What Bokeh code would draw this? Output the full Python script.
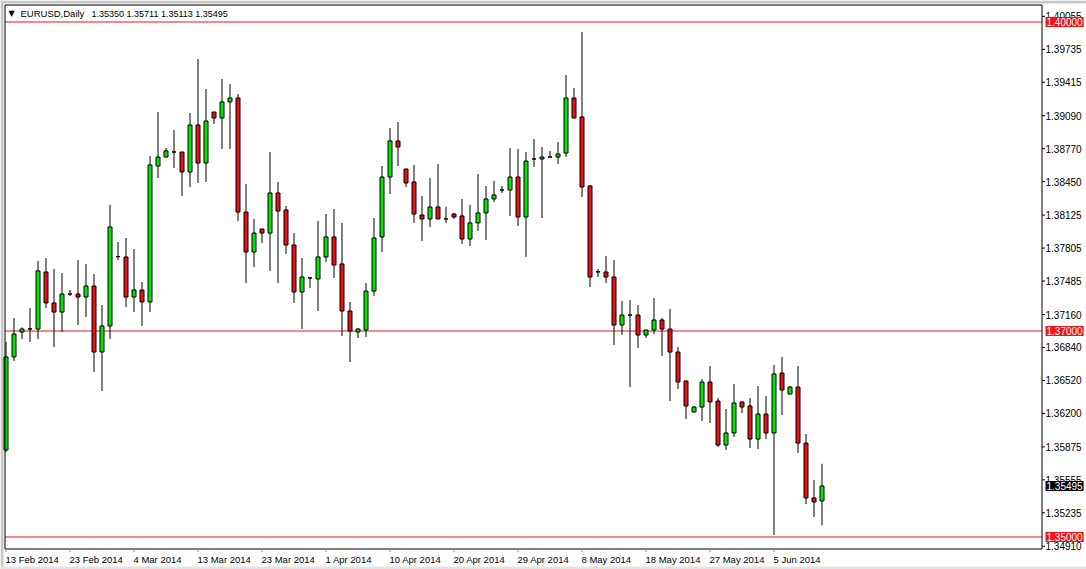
from bokeh.plotting import figure
from bokeh.models import Range1d, Label, ColumnDataSource
from bokeh.embed import file_html
from bokeh.resources import INLINE

symbol = "EURUSD,Daily"

opens = [1.35845, 1.36748, 1.36990, 1.37020, 1.37019, 1.37573, 1.37272, 1.37184, 1.37359, 1.37359,
         1.37330, 1.37437, 1.36796, 1.37049, 1.37722, 1.37719, 1.37330, 1.37398, 1.37282, 1.38602,
         1.38689, 1.38738, 1.38738, 1.38544, 1.39000, 1.38631, 1.39126, 1.39068, 1.39224, 1.39262,
         1.38155, 1.37767, 1.37990, 1.37951, 1.38340, 1.38175, 1.37835, 1.37379, 1.37515, 1.37505,
         1.37719, 1.37913, 1.37651, 1.37194, 1.36990, 1.37010, 1.37388, 1.37913, 1.38495, 1.38845,
         1.38573, 1.38447, 1.38126, 1.38088, 1.38204, 1.38088, 1.38136, 1.38117, 1.37893, 1.38049,
         1.38146, 1.38282, 1.38369, 1.38369, 1.38495, 1.38107, 1.38670, 1.38670, 1.38689, 1.38689,
         1.38728, 1.39262, 1.39078, 1.38408, 1.37573, 1.37573, 1.37524, 1.37058, 1.37155, 1.37155,
         1.36961, 1.37010, 1.37107, 1.37019, 1.36796, 1.36515, 1.36214, 1.36262, 1.36505, 1.36320,
         1.35893, 1.36010, 1.36311, 1.36272, 1.35951, 1.36194, 1.36010, 1.36592, 1.36388, 1.36456,
         1.35912, 1.35379, 1.35350]
highs = [1.36893, 1.37126, 1.37034, 1.37223, 1.37680, 1.37709, 1.37602, 1.37563, 1.37398, 1.37689,
         1.37651, 1.37553, 1.37252, 1.38224, 1.37864, 1.37903, 1.37796, 1.37476, 1.38699, 1.39126,
         1.38777, 1.38952, 1.38738, 1.39117, 1.39641, 1.39350, 1.39126, 1.39447, 1.39398, 1.39301,
         1.38427, 1.38088, 1.37990, 1.38738, 1.38447, 1.38214, 1.37951, 1.37709, 1.37524, 1.38068,
         1.38136, 1.38185, 1.38049, 1.37282, 1.37029, 1.37466, 1.38097, 1.38602, 1.38971, 1.39029,
         1.38573, 1.38612, 1.38311, 1.38486, 1.38621, 1.38204, 1.38146, 1.38282, 1.38224, 1.38524,
         1.38408, 1.38457, 1.38408, 1.38777, 1.38767, 1.38738, 1.38864, 1.38787, 1.38748, 1.38835,
         1.39486, 1.39360, 1.39903, 1.38418, 1.37602, 1.37728, 1.37689, 1.37291, 1.37301, 1.37252,
         1.37010, 1.37320, 1.37126, 1.37214, 1.36845, 1.36515, 1.36272, 1.36534, 1.36660, 1.36349,
         1.36243, 1.36485, 1.36311, 1.36349, 1.36466, 1.36369, 1.36670, 1.36748, 1.36466, 1.36660,
         1.36000, 1.35553, 1.35711]
lows = [1.35825, 1.36709, 1.36922, 1.36893, 1.36922, 1.37223, 1.36845, 1.36990, 1.37340, 1.37058,
        1.37136, 1.36602, 1.36417, 1.36922, 1.37689, 1.37233, 1.37184, 1.37049, 1.37184, 1.38485,
        1.38685, 1.38583, 1.38311, 1.38398, 1.38437, 1.38447, 1.39010, 1.38767, 1.38767, 1.38068,
        1.37466, 1.37621, 1.37855, 1.37583, 1.37466, 1.37748, 1.37272, 1.37019, 1.37418, 1.37194,
        1.37670, 1.37515, 1.36951, 1.36699, 1.36932, 1.36942, 1.37340, 1.37767, 1.38330, 1.38602,
        1.38398, 1.38049, 1.37874, 1.38010, 1.38088, 1.38049, 1.38088, 1.37845, 1.37825, 1.37971,
        1.37884, 1.38253, 1.38340, 1.38117, 1.38020, 1.37719, 1.38592, 1.38097, 1.38685, 1.38622,
        1.38690, 1.39063, 1.38301, 1.37427, 1.37524, 1.37466, 1.36864, 1.36961, 1.36456, 1.36835,
        1.36932, 1.36971, 1.36757, 1.36320, 1.36437, 1.36146, 1.36209, 1.36126, 1.36107, 1.35874,
        1.35845, 1.35971, 1.36204, 1.35864, 1.35854, 1.35951, 1.35019, 1.36184, 1.36388, 1.35815,
        1.35320, 1.35194, 1.35113]
closes = [1.36748, 1.36971, 1.37019, 1.37020, 1.37583, 1.37272, 1.37184, 1.37359, 1.37359, 1.37330,
          1.37437, 1.36796, 1.37049, 1.38010, 1.37722, 1.37330, 1.37398, 1.37282, 1.38612, 1.38689,
          1.38748, 1.38738, 1.38544, 1.39000, 1.38631, 1.39039, 1.39068, 1.39224, 1.39262, 1.38155,
          1.37767, 1.37951, 1.37951, 1.38340, 1.38165, 1.37835, 1.37379, 1.37524, 1.37515, 1.37719,
          1.37913, 1.37641, 1.37194, 1.37000, 1.37019, 1.37388, 1.37903, 1.38495, 1.38845, 1.38786,
          1.38437, 1.38136, 1.38088, 1.38204, 1.38088, 1.38088, 1.38107, 1.37893, 1.38049, 1.38146,
          1.38282, 1.38321, 1.38369, 1.38495, 1.38107, 1.38650, 1.38670, 1.38689, 1.38689, 1.38719,
          1.39262, 1.39068, 1.38398, 1.37524, 1.37576, 1.37524, 1.37058, 1.37155, 1.37155, 1.36961,
          1.37010, 1.37107, 1.37019, 1.36796, 1.36505, 1.36272, 1.36262, 1.36505, 1.36311, 1.35893,
          1.36010, 1.36301, 1.36262, 1.35951, 1.36194, 1.36010, 1.36583, 1.36427, 1.36456, 1.35912,
          1.35379, 1.35340, 1.35495]

date_bars = [0, 8, 16, 24, 32, 40, 48, 56, 64, 72, 80, 88, 96]
date_labels = ["13 Feb 2014", "23 Feb 2014", "4 Mar 2014", "13 Mar 2014", "23 Mar 2014",
               "1 Apr 2014", "10 Apr 2014", "20 Apr 2014", "29 Apr 2014", "8 May 2014",
               "18 May 2014", "27 May 2014", "5 Jun 2014"]

price_ticks = [1.40055, 1.39735, 1.39415, 1.39090, 1.38770, 1.38450, 1.38125, 1.37805, 1.37485,
               1.37160, 1.36840, 1.36520, 1.36200, 1.35875, 1.35555, 1.35235, 1.34910]
levels = [1.40000, 1.37000, 1.35000]
last_price = closes[-1]

GREEN = "#00e600"
RED = "#e81010"
LEVEL = "#e8141e"
BOX_RED = "#f01414"
FONT = "Liberation Sans"

W, H = 1086, 569
# screen layout of the MT4 window (pixels): bar i centred at 5.5 + 8*i,
# price 1.37000 at y=330.5, 10300 px per 1.0 of price
PX_PER_BAR = 8.0
PX_PER_PRICE = 10300.0


def xd(px):
    return (px - 5.5) / PX_PER_BAR


def yd(py):
    return 1.37 + (330.5 - py) / PX_PER_PRICE


FRAME_L, FRAME_R, FRAME_T, FRAME_B = 4.5, 1041.5, 4.5, 548.5

n = len(opens)
idx = list(range(n))
colors = [GREEN if c > o else (RED if c < o else "black") for o, c in zip(opens, closes)]
src = ColumnDataSource(dict(
    x=idx,
    top=[max(o, c) for o, c in zip(opens, closes)],
    bottom=[min(o, c) for o, c in zip(opens, closes)],
    high=highs, low=lows, color=colors,
))

p = figure(width=W, height=H,
           x_range=Range1d(xd(0), xd(W)), y_range=Range1d(yd(H), yd(0)),
           output_backend="svg", toolbar_location=None,
           x_axis_location=None, y_axis_location=None, min_border=0)
p.background_fill_color = "white"
p.border_fill_color = "white"
p.outline_line_color = None
p.grid.visible = False

# window chrome strips
p.quad(left=xd(0), right=xd(3), top=yd(0), bottom=yd(H), fill_color="#c8c8c8", line_color=None)
p.quad(left=xd(0), right=xd(W), top=yd(0), bottom=yd(3), fill_color="#c8c8c8", line_color=None)
p.quad(left=xd(0), right=xd(W), top=yd(566), bottom=yd(H), fill_color="#e4e4e4", line_color=None)

# level lines
p.segment(x0=[xd(FRAME_L)] * len(levels), x1=[xd(FRAME_R)] * len(levels), y0=levels, y1=levels,
          line_color=LEVEL, line_width=1)

# candles
p.segment(x0="x", y0="low", x1="x", y1="high", source=src, line_color="black", line_width=1)
p.vbar(x="x", top="top", bottom="bottom", width=0.5, source=src,
       fill_color="color", line_color="black", line_width=1)

# chart frame
p.quad(left=xd(FRAME_L), right=xd(FRAME_R), top=yd(FRAME_T), bottom=yd(FRAME_B),
       fill_color=None, line_color="black", line_width=1)

# price axis ticks + labels
p.segment(x0=[xd(FRAME_R)] * len(price_ticks), x1=[xd(FRAME_R + 3)] * len(price_ticks),
          y0=price_ticks, y1=price_ticks, line_color="black", line_width=1)
for t in price_ticks:
    p.add_layout(Label(x=xd(1045), y=t, text=f"{t:.5f}",
                       text_font=FONT, text_font_size="10px", text_color="black",
                       text_align="left", text_baseline="middle"))

# date axis ticks + labels (left-aligned at the tick, MT4 style)
p.segment(x0=date_bars, x1=date_bars, y0=[yd(FRAME_B)] * len(date_bars),
          y1=[yd(FRAME_B + 3)] * len(date_bars), line_color="#909090", line_width=1)
for b, t in zip(date_bars, date_labels):
    p.add_layout(Label(x=b - 0.0625, y=yd(553), text=t,
                       text_font=FONT, text_font_size="9.5px", text_color="black",
                       text_align="left", text_baseline="top"))

# price boxes on the axis
for lv in levels:
    p.add_layout(Label(x=xd(1045), y=lv, text=f"{lv:.5f}",
                       text_font=FONT, text_font_size="10px", text_color="white",
                       text_align="left", text_baseline="middle",
                       background_fill_color=BOX_RED, padding=1))
p.add_layout(Label(x=xd(1045), y=last_price, text=f"{last_price:.5f}",
                   text_font=FONT, text_font_size="10px", text_color="white",
                   text_align="left", text_baseline="middle",
                   background_fill_color="black", padding=1))

# header
p.add_layout(Label(x=xd(8), y=yd(13), text="\u25BC",
                   text_font="DejaVu Sans", text_font_size="8px", text_color="black",
                   text_align="left", text_baseline="middle"))
p.add_layout(Label(x=xd(20), y=yd(13), text=symbol,
                   text_font=FONT, text_font_size="9.5px", text_color="black",
                   text_align="left", text_baseline="middle"))
header_vals = " ".join(f"{v:.5f}" for v in (opens[-1], highs[-1], lows[-1], closes[-1]))
p.add_layout(Label(x=xd(91), y=yd(13), text=header_vals,
                   text_font=FONT, text_font_size="9px", text_color="black",
                   text_align="left", text_baseline="middle"))

open("out.html", "w").write(file_html(p, INLINE))
